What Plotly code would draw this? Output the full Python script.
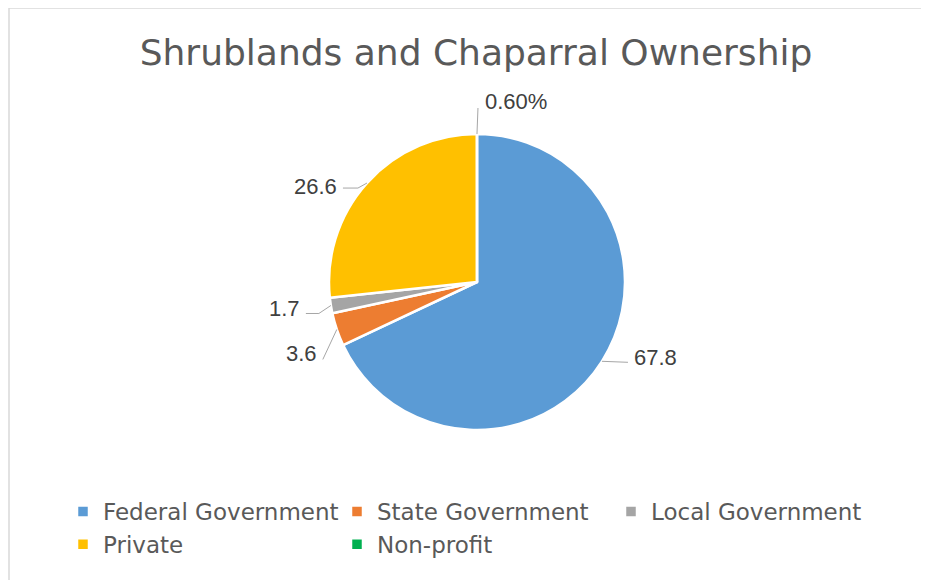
import math
import plotly.graph_objects as go

# chart data
owners = ["Federal Government", "State Government", "Local Government", "Private", "Non-profit"]
shares = [67.8, 3.6, 1.7, 26.6, 0.006]
share_labels = ["67.8", "3.6", "1.7", "26.6", "0.60%"]
slice_colors = ["#5B9BD5", "#ED7D31", "#A5A5A5", "#FFC000", "#00B050"]

W, H = 929, 580
OFF = 8  # page body margin around the plot div
# pie placement in screen pixels (centre and radius)
CX, CY, R = 477, 282, 148

# leader line bends (pixel offsets from the slice edge) and text offset from line end
leaders = [
    [(26, 1)],
    [(-14, 30)],
    [(-12, 8), (-25, 8)],
    [(-9, 5), (-24, 5)],
    [(1, -26)],
]
text_offsets = [(4, -5), (-4, -6), (-4, -5), (-4, -2), (5, -7)]


def px(x, y):
    return (x - OFF) / W, 1 - (y - OFF) / H


fig = go.Figure()
x0, y1 = px(CX - R, CY - R)
x1, y0 = px(CX + R, CY + R)
fig.add_trace(go.Pie(
    labels=owners,
    values=shares,
    sort=False,
    direction="clockwise",
    rotation=0,
    textinfo="none",
    hoverinfo="skip",
    marker=dict(colors=slice_colors, line=dict(color="white", width=2.5)),
    domain=dict(x=[x0, x1], y=[y0, y1]),
))

# data labels with leader lines, placed from each slice's mid angle
total = sum(shares)
cum = 0
shapes = []
annotations = []
for val, txt, bends, (tx, ty) in zip(shares, share_labels, leaders, text_offsets):
    mid = (cum + val / 2) / total * 2 * math.pi
    cum += val
    ex, ey = CX + R * math.sin(mid), CY - R * math.cos(mid)
    pts = [(ex, ey)] + [(ex + dx, ey + dy) for dx, dy in bends]
    path = "M " + " L ".join(f"{px(x, y)[0]},{px(x, y)[1]}" for x, y in pts)
    shapes.append(dict(type="path", xref="paper", yref="paper", path=path,
                       line=dict(color="#A6A6A6", width=1)))
    lx, ly = pts[-1]
    ax, ay = px(lx + tx, ly + ty)
    annotations.append(dict(
        x=ax, y=ay, xref="paper", yref="paper", text=txt, showarrow=False,
        xanchor="left" if tx > 0 else "right", yanchor="middle",
        font=dict(family="Liberation Sans, Arial", size=22, color="#404040"),
    ))

# outer chart frame
fx0, fy1 = px(9, 8)
shapes.append(dict(type="rect", xref="paper", yref="paper",
                   x0=fx0, y0=-0.05, x1=1.05, y1=fy1,
                   line=dict(color="#D9D9D9", width=1.5)))

tx_, ty_ = px(476, 52)
lgx, lgy = px(63, 490)
fig.update_layout(
    width=W, height=H,
    margin=dict(l=0, r=0, t=0, b=0),
    paper_bgcolor="white",
    plot_bgcolor="white",
    title=dict(
        text="Shrublands and Chaparral Ownership",
        x=tx_, xanchor="center", y=ty_, yanchor="middle",
        font=dict(family="DejaVu Sans", size=36, color="#595959"),
    ),
    showlegend=True,
    legend=dict(
        orientation="h", x=lgx, xanchor="left", y=lgy, yanchor="top",
        entrywidth=229, entrywidthmode="pixels",
        font=dict(family="DejaVu Sans", size=23, color="#595959"),
        itemclick=False, itemdoubleclick=False,
    ),
    shapes=shapes,
    annotations=annotations,
)

fig.write_html("out.html")
